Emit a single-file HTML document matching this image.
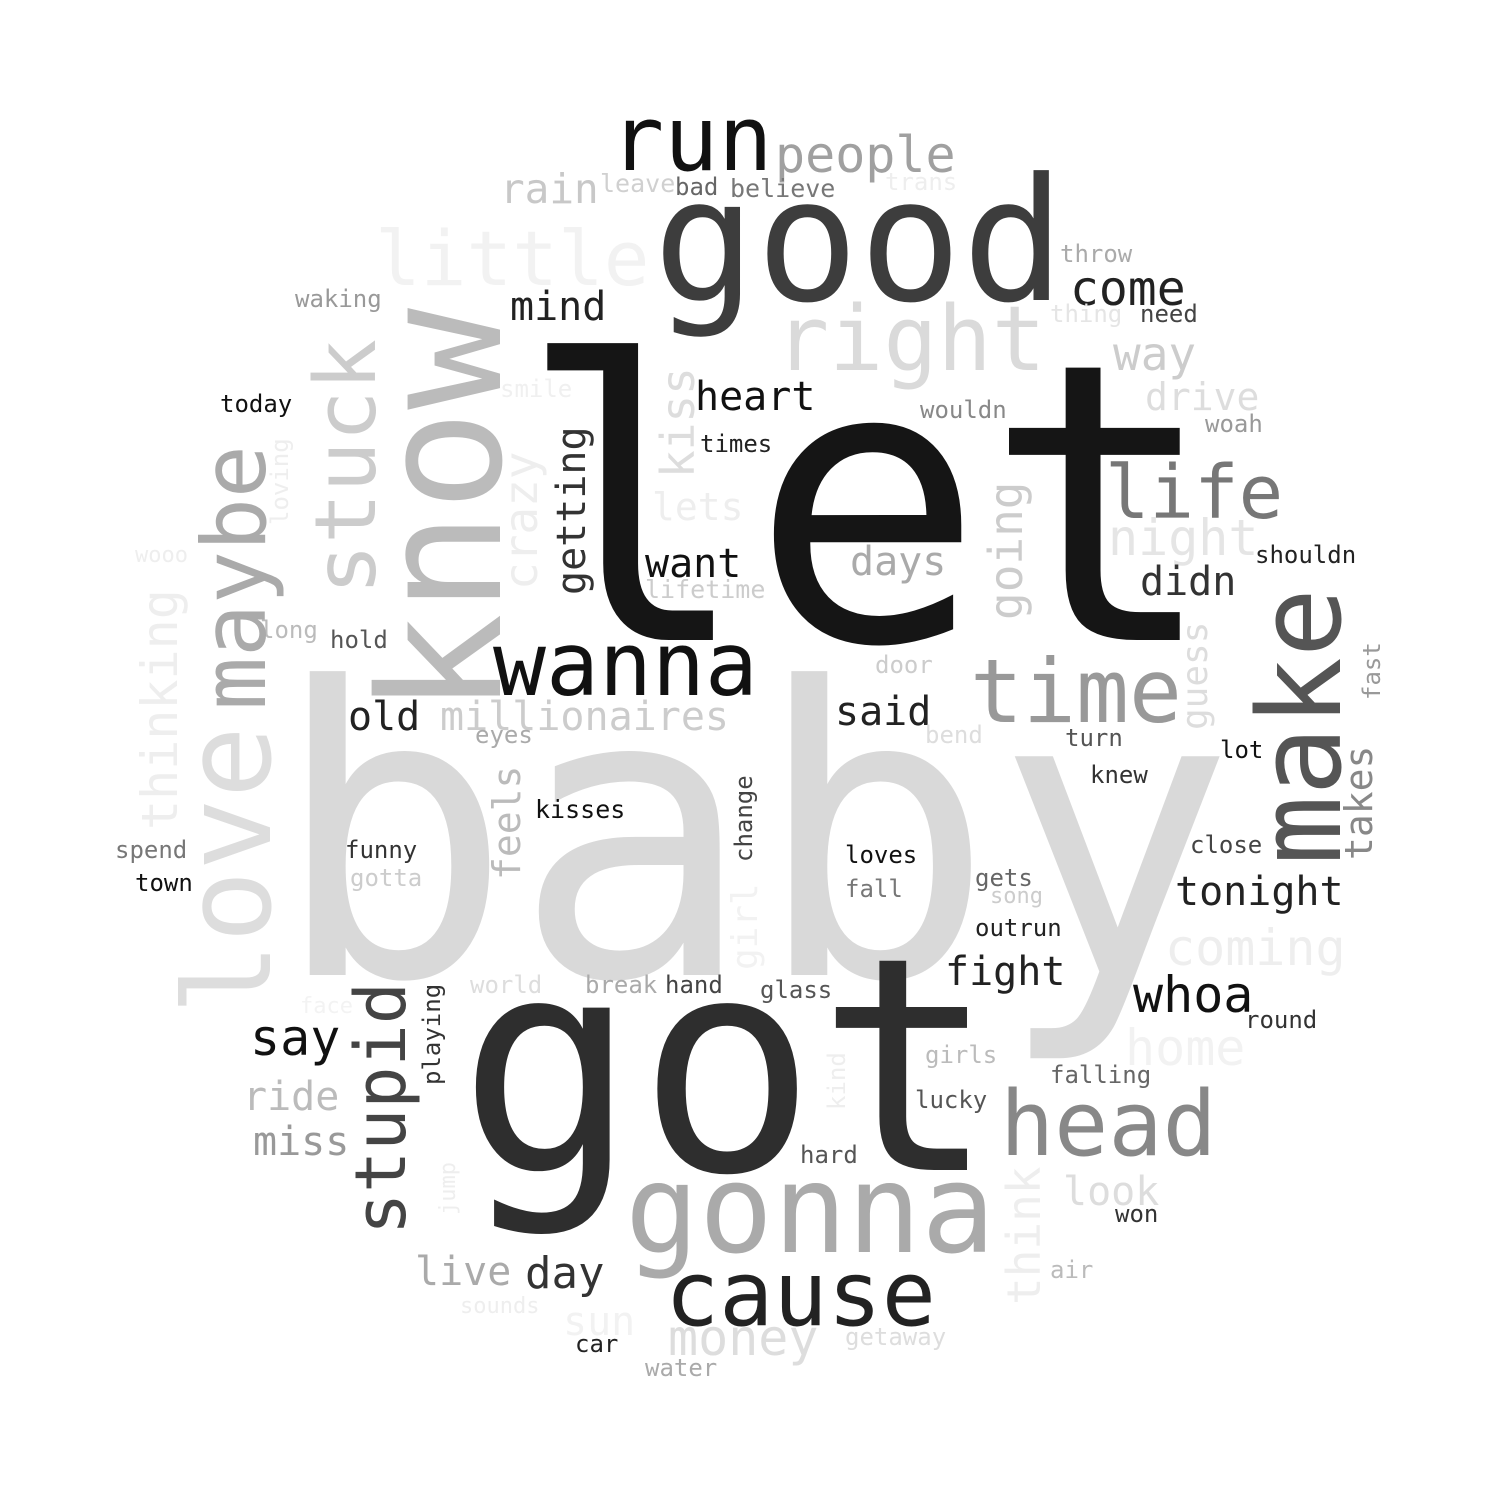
<!DOCTYPE html>
<html><head><meta charset="utf-8">
<style>
html,body{margin:0;padding:0;background:#fff;width:1500px;height:1500px;overflow:hidden}
svg text{font-family:"DejaVu Sans Mono","Liberation Mono",monospace;}
</style></head>
<body>
<svg id="cloud" width="1500" height="1500" viewBox="0 0 1500 1500" xmlns="http://www.w3.org/2000/svg">
<rect width="1500" height="1500" fill="#fff"/>
</svg>
<script>
const words=["baby","let","got","good","run","people","rain","leave","bad","believe","trans","little","throw","come","thing","need","waking","mind","right","way","smile","today","heart","drive","wouldn","woah","times","life","lets","night","want","days","shouldn","didn","wooo","lifetime","long","hold","wanna","time","door","old","millionaires","said","eyes","bend","turn","lot","knew","kisses","spend","funny","loves","close","town","gotta","fall","gets","song","tonight","outrun","coming","fight","world","break","hand","glass","whoa","face","round","say","home","girls","falling","ride","lucky","head","miss","hard","gonna","look","won","cause","live","day","air","sounds","sun","money","getaway","car","water",
"know","stuck","maybe","love","loving","thinking","crazy","kiss","getting","going","make","guess","fast","takes","feels","change","girl","stupid","playing","kind","jump","think"];
const sizes=[400,388,298,171,90,50,41,25,24,25,24,76,24,48,24,24,24,40,90,46,24,24,40,38,24,24,24,74,38,50,40,40,24,40,22,25,24,24,88,88,24,40,40,40,24,24,24,24,24,25,24,24,24,24,24,24,24,24,22,40,24,50,40,24,24,24,24,50,22,24,50,50,24,24,40,24,90,40,24,123,40,24,90,40,44,24,22,40,50,24,24,24,
169,85,88,120,24,50,46,46,40,46,115,36,24,38,38,24,36,70,24,24,22,46];
const colors=["#d9d9d9","#151515","#2e2e2e","#3d3d3d","#111111","#a0a0a0","#c8c8c8","#d0d0d0","#666666","#777777","#eeeeee","#f2f2f2","#aaaaaa","#222222","#e5e5e5","#444444","#999999","#222222","#dadada","#cccccc","#f0f0f0","#111111","#111111","#dddddd","#888888","#999999","#222222","#777777","#eeeeee","#e5e5e5","#111111","#aaaaaa","#222222","#333333","#eeeeee","#cccccc","#bbbbbb","#555555","#111111","#999999","#cccccc","#222222","#cccccc","#222222","#aaaaaa","#dddddd","#555555","#111111","#333333","#111111","#777777","#333333","#111111","#444444","#111111","#cccccc","#777777","#666666","#cccccc","#222222","#222222","#eeeeee","#222222","#dddddd","#aaaaaa","#444444","#555555","#111111","#f3f3f3","#333333","#111111","#f2f2f2","#bbbbbb","#666666","#bbbbbb","#555555","#888888","#999999","#555555","#aaaaaa","#dddddd","#333333","#222222","#aaaaaa","#333333","#bbbbbb","#eeeeee","#f2f2f2","#dddddd","#dddddd","#222222","#aaaaaa",
"#bbbbbb","#cccccc","#aaaaaa","#dddddd","#eeeeee","#eeeeee","#eeeeee","#dddddd","#333333","#cccccc","#555555","#dddddd","#999999","#888888","#bbbbbb","#444444","#f2f2f2","#444444","#333333","#eeeeee","#eeeeee","#eeeeee"];
const xs=[272,517,458,653,610,775,500,600,675,730,885,375,1060,1070,1050,1140,295,510,775,1113,500,220,695,1145,920,1205,700,1105,652,1108,645,850,1255,1140,135,645,260,330,493,970,875,348,440,835,475,925,1065,1220,1090,535,115,345,845,1190,135,350,845,975,990,1175,975,1165,945,470,585,665,760,1133,300,1245,250,1125,925,1050,243,915,1000,253,800,625,1063,1115,665,415,525,1050,460,563,668,845,575,645,
500,375,265,270,288,177,537,694,585,1022,1340,1207,1380,1372,520,752,757,405,440,845,455,1040];
const ys=[975,640,1170,300,170,172,203,192,195,197,190,285,262,305,322,322,307,320,370,370,397,412,410,410,418,432,452,518,520,555,577,575,563,595,562,598,638,648,695,722,673,730,730,725,743,743,746,758,783,818,858,858,863,853,891,886,897,886,903,905,936,965,985,993,993,993,998,1012,1013,1028,1055,1065,1063,1083,1110,1108,1155,1155,1163,1252,1205,1222,1325,1285,1288,1278,1313,1335,1355,1345,1352,1376,
715,595,710,1015,525,830,590,478,595,620,865,730,700,860,880,862,970,1235,1085,1110,1215,1305];
const rots=[];
for(let i=0;i<words.length;i++){rots.push(i>=92?-90:0);}
const svg=document.getElementById('cloud');
for(let i=0;i<words.length;i++){
  const t=document.createElementNS('http://www.w3.org/2000/svg','text');
  t.setAttribute('x',xs[i]);
  t.setAttribute('y',ys[i]);
  t.setAttribute('font-size',sizes[i]);
  t.setAttribute('fill',colors[i]);
  if(rots[i]!==0){t.setAttribute('transform','rotate('+rots[i]+' '+xs[i]+' '+ys[i]+')');}
  t.textContent=words[i];
  
  
  svg.appendChild(t);
}
</script>
</body></html>
